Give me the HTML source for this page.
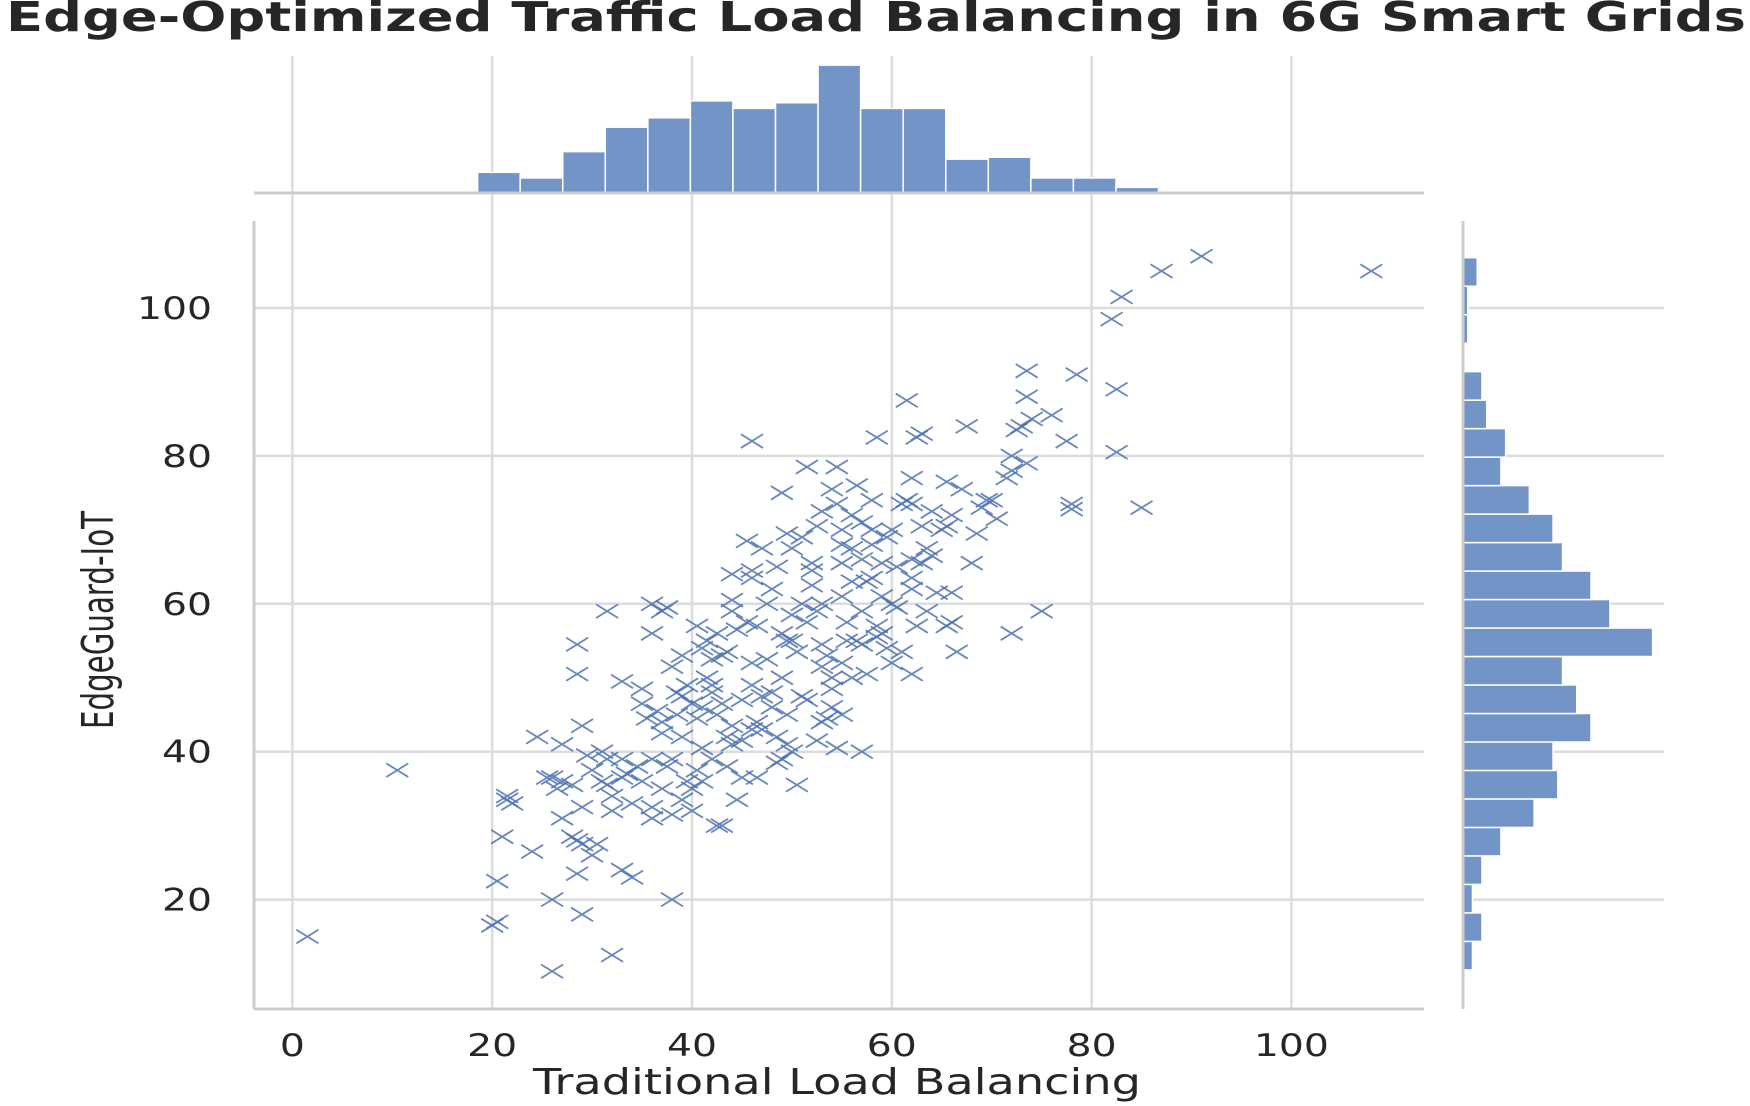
<!DOCTYPE html>
<html><head><meta charset="utf-8"><style>
html,body{margin:0;padding:0;background:#fff;}
svg{display:block;font-family:"DejaVu Sans","Liberation Sans",sans-serif;}
</style></head><body>
<svg id="chart" width="1750" height="1106" viewBox="0 0 1750 1106" xmlns="http://www.w3.org/2000/svg">
<text x="876" y="31" text-anchor="middle" font-size="41" font-weight="bold" fill="#262626" textLength="1740" lengthAdjust="spacingAndGlyphs">Edge-Optimized Traffic Load Balancing in 6G Smart Grids</text>
<g id="grid"></g>
<g id="tophist"></g>
<g id="righthist"></g>
<g id="spines"></g>
<g id="points"></g>
<g id="ticks"></g>
<text x="837" y="1094" text-anchor="middle" font-size="36" fill="#262626" textLength="608" lengthAdjust="spacingAndGlyphs">Traditional Load Balancing</text>
<text transform="translate(113,620) rotate(-90)" text-anchor="middle" font-size="44" fill="#262626" textLength="218" lengthAdjust="spacingAndGlyphs">EdgeGuard-IoT</text>
</svg>
<script>
const xTicks=[0,20,40,60,80,100];
const yTicks=[20,40,60,80,100];
const xBinStart=1.5, xBinWidth=4.26;
const xHistCounts=[1,0,1,0,11,8,22,35,40,49,45,48,68,45,45,18,19,8,8,3,1,1,0,0,1];
const yBinStart=10.5, yBinWidth=3.852;
const yHistCounts=[2,4,2,4,8,15,20,19,27,24,21,40,31,27,21,19,14,8,9,5,4,0,1,1,3];
const xs=[1.5,10.5,108,91,87,83,82,82.5,78.5,73.5,73.5,82.5,85,78,78,77.5,76,74,73,72.5,73.5,72,72,71.5,67.5,63,62.5,61.5,58.5,46,51.5,54.5,54,49,62,65.5,67,70,69,70.5,68.5,72,75,66.5,62,66,65.5,66,60,57,50.5,45,43,42.5,38,34,33,32,29,26,26,20,20.5,20.5,21,21.5,21.5,22,24,24.5,26,27,27,28,28.5,29,28.5,29,29,28.5,28.5,30,30.5,31,31.5,31.5,32,31.5,33,33,34,35,35,35.5,36,36,36,36,37,37.5,37,37.5,38,38,38.5,39,39,39.5,40,40.5,39.5,40,40,40.5,41,41,41.5,42,41.5,42,42.5,43,43.5,44,44,44,42.5,43.5,44,45,45,45.5,46,46,46.5,46,46,46.5,47,47,47.5,48,48,48.5,49,49.5,49,49.5,48.5,49.5,50,50,49.5,50,50.5,51,51.5,51.5,52,52,52,52.5,53,53,53.5,53,53,53.5,54,54,54,55,55,55,55,55.5,55.5,56,56,56,56.5,57,57,57,57.5,58,58,58.5,58.5,58,59,59,59,59.5,60,60.5,60.5,61,61.5,62,62,62,62,63,63,63.5,64,64,64.5,65,65.5,66,68,69.5,40.5,39,38.5,37,36.5,36,34.5,33.5,33,32,31,30,29.5,28,27,26.5,25.5,47,46,44,43,42,41,51,50,48,47.5,45.5,44.5,55,57.5,56,61,62.5,63.5,60,58,57,59.5,56.5,54.5,52.5,51,48.5,42,43.5,41,39,38,37,35,44.5,46.5,52.5,53,54.5,55,49];
const ys=[15,37.5,105,107,105,101.5,98.5,89,91,91.5,88,80.5,73,73.5,72.8,82,85.5,85,84,83.5,79,80,78,77,84,83,82.5,87.5,82.5,82,78.5,78.5,75.5,75,77,76.5,75.5,74,73,71.5,69.5,56,59,53.5,50.5,57.5,57,61.5,52,40,35.5,36.5,30,30,20,23,24,12.5,18,20,10.3,16.5,17,22.5,28.5,34,33.5,33,26.5,42,36.5,36,41,28.5,28,27.5,23.5,32.5,43.5,54.5,50.5,26,27.5,40,39,35.5,32,59,49.5,36.5,33,48.5,46.5,44.5,31,32.5,56,60,59,59.5,44,38,39,51.5,45,47.5,42,49,46.5,44.5,36,32,35,37.5,36,54,55,52.5,50,48,56,53,53.5,60.5,64,59,45,42,43.5,41.5,47,68.5,64.5,63.5,57,52,49,44,43,67.5,52.5,46,48,42,56,55,50,45,38.5,41,40,67.5,69.5,55,53.5,47.5,47,57.5,62.5,64.5,65.5,59,60,54.5,53,51.5,72.5,44.5,48.5,50,46,68,70,65.5,61,57.5,55,72,67.5,63,55,59,54.5,66,63,70,68,57,55.5,63.5,65.5,61,56,54,60,59.5,65,73.5,74,73.5,63.5,66,62,65.5,70.5,67.5,66.5,72.5,61.5,70,70.5,72,65.5,74,57,53,48,42.5,45.5,39,38,37,39,34,36,37.5,39.5,35.5,31,35,36.5,47.5,43,41,46.5,49,46,60,58.5,62,60,57.5,56.5,52,50.5,50,53.5,57,59,70,74,71,69,76,73.5,70.5,69,65,39,38,40.5,33.5,31.5,35,36,33.5,36.5,41.5,44,40.5,45,39];

const NS='http://www.w3.org/2000/svg';
const X0=292.4, XU=9.99, YT=308, YU=7.395;
function sx(v){return X0+v*XU;}
function sy(v){return YT-(v-100)*YU;}
const AX_L=254, AX_R=1424, AX_T=221, AX_B=1009;
const TOP_BASE=193, TOP_TOP=56, TOP_PX=1.88;
const RH_L=1463, RH_R=1664, RH_PX=4.74;
function mk(tag,attrs,parent){const e=document.createElementNS(NS,tag);for(const k in attrs)e.setAttribute(k,attrs[k]);parent.appendChild(e);return e;}
const grid=document.getElementById('grid');
xTicks.forEach(t=>{
  const l=mk('line',{x1:sx(t),x2:sx(t),y1:TOP_TOP,y2:AX_B,stroke:'#dcdcdc','stroke-width':2.5},grid);
  
  
});
yTicks.forEach(t=>{
  const l=mk('line',{x1:AX_L,x2:AX_R,y1:sy(t),y2:sy(t),stroke:'#dcdcdc','stroke-width':2.5},grid);
  
  
  const l2=mk('line',{x1:RH_L,x2:RH_R,y1:sy(t),y2:sy(t),stroke:'#dcdcdc','stroke-width':2.5},grid);
  
  
});
const th=document.getElementById('tophist');
xHistCounts.forEach((c,i)=>{
  if(!c)return;
  const x1=sx(xBinStart+i*xBinWidth), x2=sx(xBinStart+(i+1)*xBinWidth);
  const h=c*TOP_PX;
  const r=mk('rect',{x:x1,y:TOP_BASE-h,width:x2-x1,height:h,fill:'#7394c7',stroke:'#fff','stroke-width':1.5},th);
  
  
});
const rh=document.getElementById('righthist');
yHistCounts.forEach((c,i)=>{
  if(!c)return;
  const y1=sy(yBinStart+(i+1)*yBinWidth), y2=sy(yBinStart+i*yBinWidth);
  const r=mk('rect',{x:RH_L,y:y1,width:c*RH_PX,height:y2-y1,fill:'#7394c7',stroke:'#fff','stroke-width':1.5},rh);
  
  
});
const sp=document.getElementById('spines');
[[AX_L,AX_T,AX_L,AX_B],[AX_L,AX_B,AX_R,AX_B],[AX_L,TOP_BASE,AX_R,TOP_BASE],[RH_L,AX_T,RH_L,AX_B]].forEach(a=>{
  const l=mk('line',{x1:a[0],y1:a[1],x2:a[2],y2:a[3],stroke:'#cccccc','stroke-width':3},sp);
  
  
});
const pts=document.getElementById('points');
const S=11;
xs.forEach((v,i)=>{
  const cx=sx(v), cy=sy(ys[i]);
  const p=mk('path',{d:`M${cx-S},${cy-S*0.62}L${cx+S},${cy+S*0.62}M${cx-S},${cy+S*0.62}L${cx+S},${cy-S*0.62}`,stroke:'#4c72b0','stroke-width':1.8,'stroke-opacity':0.85,fill:'none'},pts);
  
  
});
const tk=document.getElementById('ticks');
xTicks.forEach(t=>{
  const s=String(t);
  const e=mk('text',{x:sx(t),y:1056,'text-anchor':'middle','font-size':31,fill:'#262626',textLength:25*s.length,lengthAdjust:'spacingAndGlyphs'},tk);
  e.textContent=s;
  
  
});
yTicks.forEach(t=>{
  const s=String(t);
  const e=mk('text',{x:212,y:sy(t)+11,'text-anchor':'end','font-size':31,fill:'#262626',textLength:25*s.length,lengthAdjust:'spacingAndGlyphs'},tk);
  e.textContent=s;
  
  
});
</script>
</body></html>
